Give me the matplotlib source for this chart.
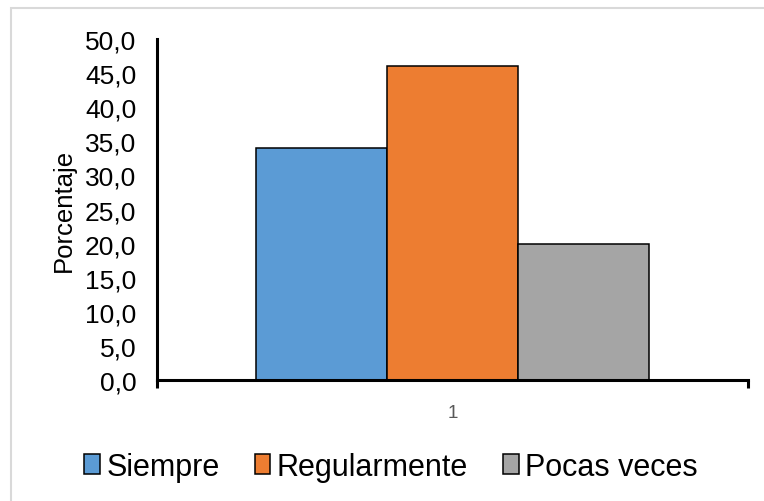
import matplotlib.pyplot as plt
from matplotlib.patches import Rectangle

plt.rcParams['font.family'] = ['Liberation Sans', 'DejaVu Sans']

categories = ['1']
series = ['Siempre', 'Regularmente', 'Pocas veces']
values = [34.0, 46.0, 20.0]
colors = ['#5B9BD5', '#ED7D31', '#A5A5A5']
yticks = [0, 5, 10, 15, 20, 25, 30, 35, 40, 45, 50]

fig = plt.figure(figsize=(7.64, 5.02), dpi=100)
ax = fig.add_axes([157 / 764, 1 - 381 / 502, 591 / 764, 341 / 502])

# outer chart frame
fig.patches.append(Rectangle((11 / 764, -0.1), 1.2, 0.1 + (502 - 9) / 502,
                             transform=fig.transFigure, fill=False,
                             edgecolor='#D9D9D9', linewidth=1.5))

w = 0.2217
for i, (name, val, col) in enumerate(zip(series, values, colors)):
    ax.bar(1 + (i - 1) * w, val, width=w, color=col, edgecolor='black',
           linewidth=1.1, label=name)

ax.set_xlim(0.5, 1.5)
ax.set_ylim(0, 50)
ax.set_yticks(yticks)
ax.set_yticklabels([f'{t:.1f}'.replace('.', ',') for t in yticks], fontsize=19)
ax.tick_params(axis='y', length=0, pad=15)

ax.set_xticks([0.5, 1.5], minor=False)
ax.set_xticklabels(['', ''])
ax.tick_params(axis='x', direction='out', length=6, width=2.2, color='black')
ax.text(1.0, -0.07, categories[0], transform=ax.get_xaxis_transform(),
        ha='center', va='top', fontsize=13.5, color='#595959')

for side in ['top', 'right']:
    ax.spines[side].set_visible(False)
for side in ['left', 'bottom']:
    ax.spines[side].set_linewidth(2.2)

ax.set_ylabel('Porcentaje', fontsize=18.5)
ax.yaxis.set_label_coords(-0.137, 0.5)

fig.legend(loc='center', bbox_to_anchor=(0.512, 0.0677), ncol=3, frameon=False,
           fontsize=22, handlelength=0.5, handleheight=0.62,
           handletextpad=0.22, columnspacing=1.15)

fig.savefig('out.png', dpi=100)
